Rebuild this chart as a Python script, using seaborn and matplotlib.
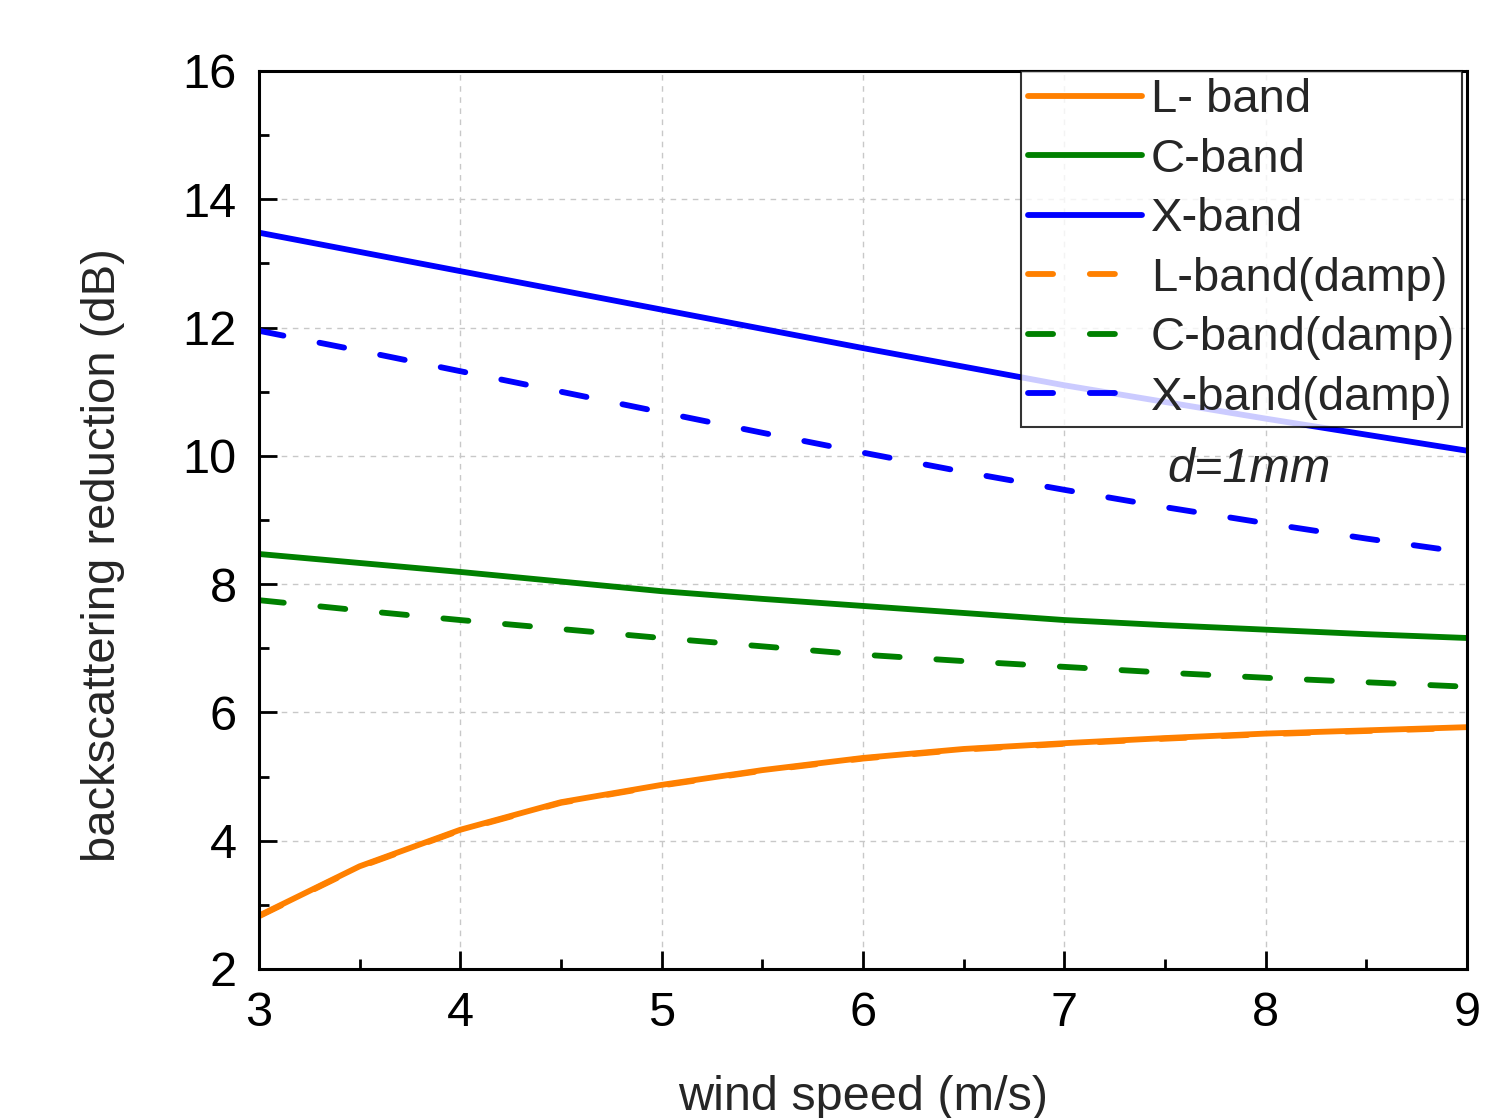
import numpy as np
import pandas as pd
import seaborn as sns
import matplotlib
matplotlib.use("Agg")
import matplotlib.pyplot as plt
from matplotlib.ticker import MultipleLocator

wind = [3.0, 3.5, 4.0, 4.5, 5.0, 5.5, 6.0, 6.5, 7.0, 7.5, 8.0, 8.5, 9.0]
l_band = [2.83, 3.60, 4.17, 4.60, 4.87, 5.10, 5.29, 5.43, 5.52, 5.60, 5.67, 5.72, 5.77]
l_band_damp = [2.82, 3.59, 4.16, 4.59, 4.86, 5.09, 5.28, 5.42, 5.51, 5.59, 5.66, 5.71, 5.76]
c_band = [8.47, 8.33, 8.19, 8.04, 7.89, 7.77, 7.66, 7.55, 7.44, 7.36, 7.29, 7.22, 7.16]
c_band_damp = [7.75, 7.59, 7.44, 7.30, 7.16, 7.03, 6.90, 6.80, 6.71, 6.62, 6.54, 6.47, 6.40]
x_band = [13.48, 13.18, 12.88, 12.58, 12.28, 11.98, 11.68, 11.39, 11.10, 10.84, 10.58, 10.33, 10.08]
x_band_damp = [11.95, 11.64, 11.32, 11.00, 10.68, 10.36, 10.05, 9.75, 9.47, 9.20, 8.95, 8.71, 8.49]

labels = ["L- band", "C-band", "X-band", "L-band(damp)", "C-band(damp)", "X-band(damp)"]
series = [l_band, c_band, x_band, l_band_damp, c_band_damp, x_band_damp]
colors = ["#FF8000", "#008000", "#0000FF", "#FF8000", "#008000", "#0000FF"]

sns.set_style("ticks")
plt.rcParams['font.family'] = ['Liberation Sans', 'DejaVu Sans']

fig = plt.figure(figsize=(14.96, 11.18), dpi=100)
ax = fig.add_axes([0.173, 0.1333, 0.8077, 0.8032])

# draw damp L first so the solid L overlays it
order = [3, 4, 5, 0, 1, 2]
handles = {}
for i in order:
    df = pd.DataFrame({"x": wind, "y": series[i]})
    sns.lineplot(data=df, x="x", y="y", ax=ax, color=colors[i], lw=4.2,
                 label=labels[i], legend=False)
    line = ax.lines[-1]
    if i >= 3:
        line.set_dashes((4.3, 6.3))
        line.set_dash_capstyle('round')
    handles[i] = line

ax.set_xlim(3, 9)
ax.set_ylim(2, 16)
ax.xaxis.set_major_locator(MultipleLocator(1))
ax.xaxis.set_minor_locator(MultipleLocator(0.5))
ax.yaxis.set_major_locator(MultipleLocator(2))
ax.yaxis.set_minor_locator(MultipleLocator(1))
ax.tick_params(which='both', direction='in', top=False, right=False,
               width=2, labelsize=35, colors='black')
ax.tick_params(which='major', length=13, pad=16)
ax.tick_params(which='minor', length=7)
ax.grid(True, which='major', color='#C8C8C8', ls=(0, (4, 4)), lw=1.0)
for s in ax.spines.values():
    s.set_linewidth(2.2)
    s.set_color('black')

ax.set_xlabel("wind speed (m/s)", fontsize=35, labelpad=28)
ax.set_ylabel("backscattering reduction (dB)", fontsize=34)
ax.yaxis.set_label_coords(-0.111, 0.461)

leg = ax.legend([handles[i] for i in range(6)], labels, loc='upper right',
                bbox_to_anchor=(0.996, 1.0), fontsize=34, frameon=True,
                fancybox=False, edgecolor='black', handlelength=2.4,
                handletextpad=0.2, borderpad=0.15, labelspacing=0.33,
                borderaxespad=0.0)
leg.get_frame().set_linewidth(1.5)

ax.text(7.51, 9.78, "d=1mm", fontsize=35, style='italic', ha='left', va='center')

fig.savefig("out.png", dpi=100)
